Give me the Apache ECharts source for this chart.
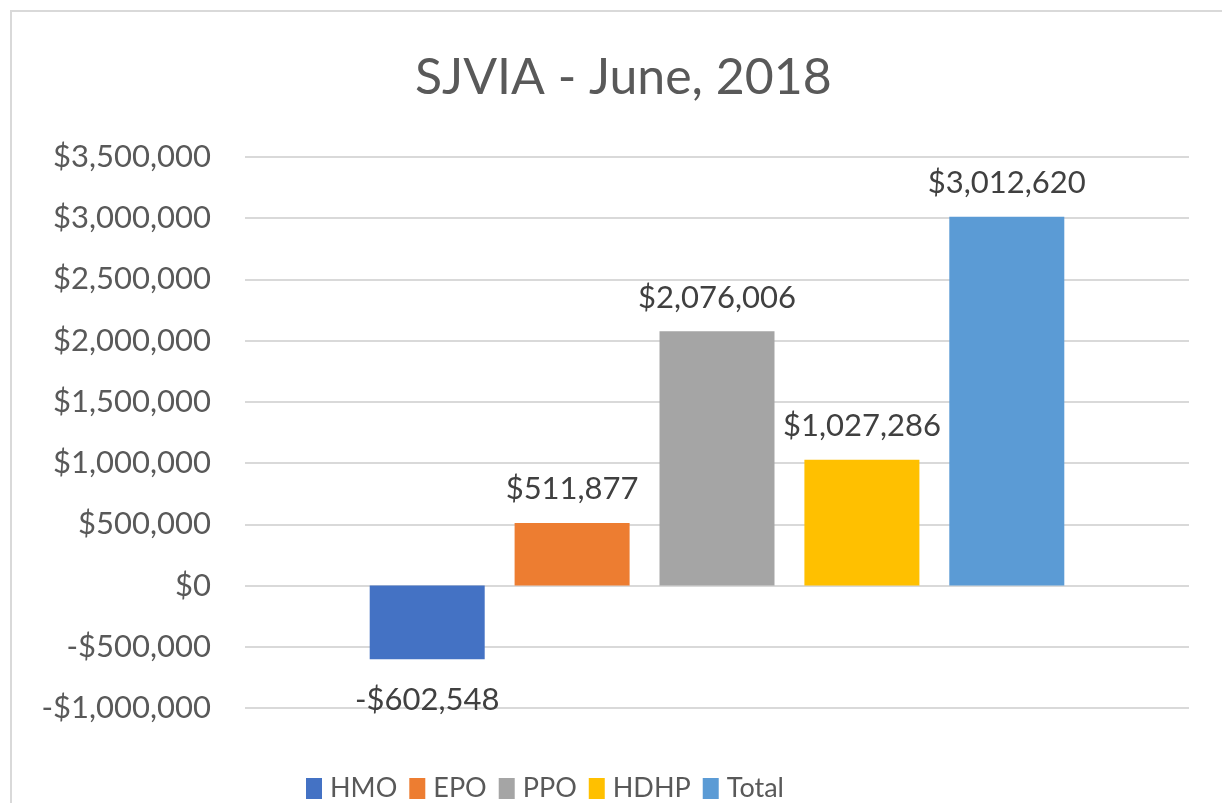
<!DOCTYPE html>
<html>
<head>
<meta charset="utf-8">
<script src="https://cdn.jsdelivr.net/npm/echarts@6/dist/echarts.min.js"></script>
<style>
  html, body { margin: 0; padding: 0; background: #fff; }
  #main { width: 1222px; height: 803px; }
</style>
</head>
<body>
<div id="main"></div>
<script>
// 数据
var plans = ['HMO', 'EPO', 'PPO', 'HDHP', 'Total'];
var values = [-602548, 511877, 2076006, 1027286, 3012620];
var colors = ['#4472c4', '#ed7d31', '#a5a5a5', '#ffc000', '#5b9bd5'];
var category = ['June, 2018'];

function money(v) {
    var s = Math.abs(v).toLocaleString('en-US');
    return (v < 0 ? '-$' : '$') + s;
}

var myChart = echarts.init(document.getElementById('main'));

var series = [];
for (var i = 0; i < plans.length; i++) {
    series.push({
        name: plans[i],
        type: 'bar',
        barWidth: 115,
        barGap: '26%',
        itemStyle: { color: colors[i] },
        label: {
            show: true,
            position: values[i] < 0 ? 'bottom' : 'top',
            distance: values[i] < 0 ? 25 : 18,
            formatter: function (p) { return money(p.value); },
            color: '#404040',
            fontSize: 31,
            fontFamily: 'Lato'
        },
        data: [values[i]]
    });
}

var option = {
    animation: false,
    backgroundColor: '#fff',
    title: {
        text: 'SJVIA - June, 2018',
        left: 410,
        top: 48,
        textStyle: {
            color: '#595959',
            fontSize: 50,
            fontWeight: 'normal',
            fontFamily: 'Lato'
        }
    },
    legend: {
        bottom: 1,
        padding: 0,
        left: 306,
        icon: 'rect',
        itemWidth: 16,
        itemHeight: 21,
        itemGap: 12,
        textStyle: {
            color: '#595959',
            fontSize: 27,
            fontFamily: 'Lato',
            padding: [0, 0, 0, 3]
        },
        data: plans
    },
    grid: {
        left: 245,
        right: 33,
        top: 157,
        bottom: 95
    },
    xAxis: {
        type: 'category',
        data: category,
        axisLine: { show: false },
        axisTick: { show: false },
        axisLabel: { show: false }
    },
    yAxis: {
        type: 'value',
        min: -1000000,
        max: 3500000,
        interval: 500000,
        axisLine: { show: false },
        axisTick: { show: false },
        axisLabel: {
            margin: 34,
            color: '#595959',
            fontSize: 31,
            fontFamily: 'Lato',
            formatter: function (v) { return money(v); }
        },
        splitLine: { lineStyle: { color: '#d9d9d9', width: 2 } }
    },
    graphic: [{
        type: 'rect',
        shape: { x: 11, y: 11, width: 1300, height: 900 },
        style: { fill: 'none', stroke: '#d9d9d9', lineWidth: 2 },
        silent: true
    }],
    series: series
};

myChart.setOption(option);
</script>
</body>
</html>
